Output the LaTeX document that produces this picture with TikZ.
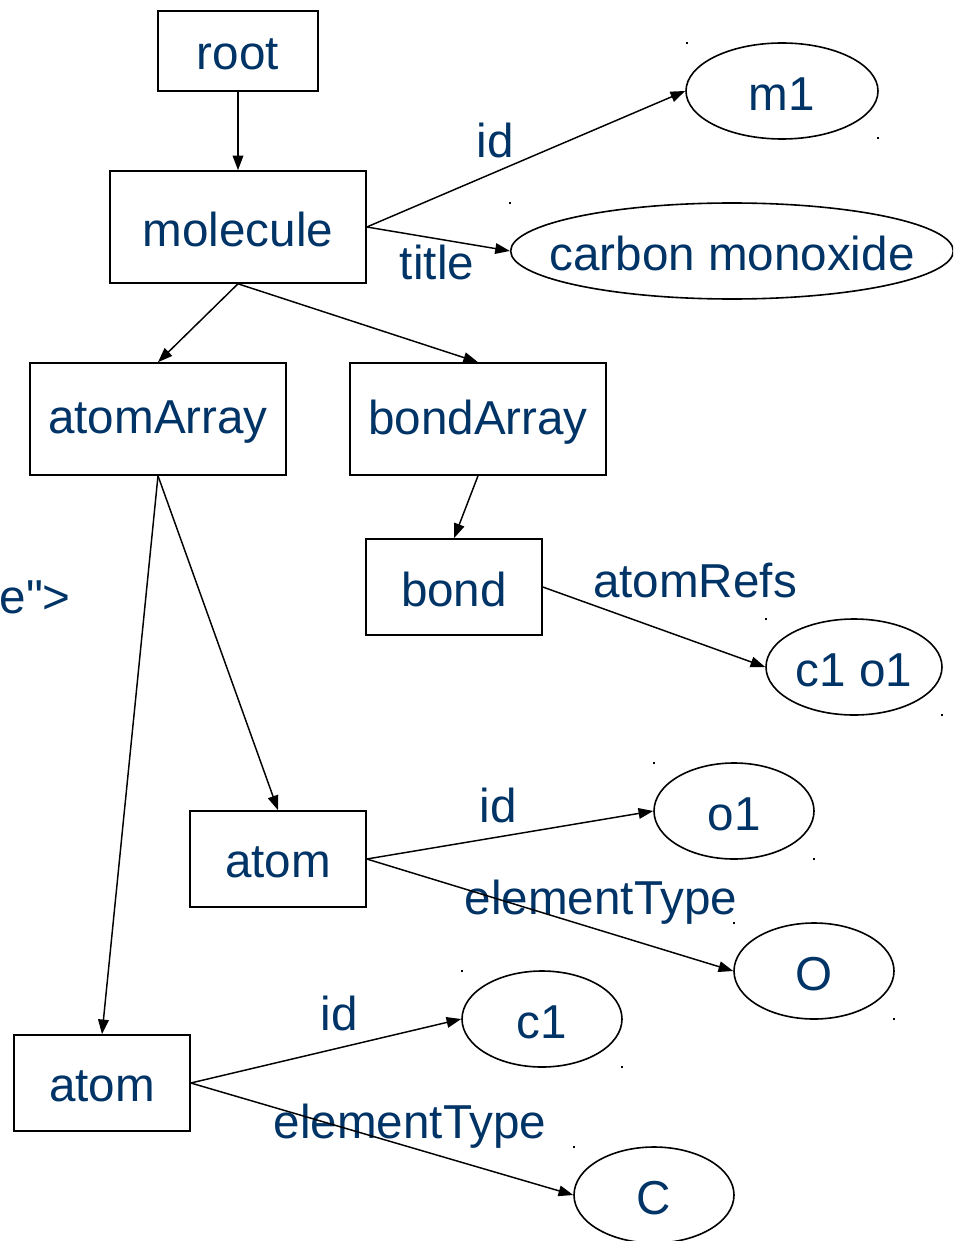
\documentclass[tikz,border=0pt]{standalone}
\usepackage{fontspec}
\setmainfont{Liberation Sans}[Ligatures=TeXOff]
\usetikzlibrary{shapes.geometric,arrows.meta}
\definecolor{txt}{RGB}{0,51,102}
\begin{document}
\begin{tikzpicture}[x=0.75pt,y=-0.75pt,
  every node/.style={font=\fontsize{35.7}{40}\selectfont, text=txt},
  every label/.style={yshift=-2.2pt, inner sep=0pt},
  box/.style={draw, line width=1.2pt, inner sep=0pt},
  ell/.style={ellipse, draw, line width=1.2pt, inner sep=0pt},
  edge/.style={line width=1.1pt, -{Triangle[length=11pt,width=8pt]}},
  lbl/.style={inner sep=0pt},
  dot/.style={fill=black}]
\useasboundingbox (0,0) rectangle (953,1241);
\clip (0,0) rectangle (953,1241);
% boxes
\node[box, minimum width=120pt, minimum height=60pt, label={center:root}] (root) at (238,51) {};
\node[box, minimum width=192pt, minimum height=84pt, label={center:molecule}] (mol) at (238,227) {};
\node[box, minimum width=192pt, minimum height=84pt, label={center:atomArray}] (aa) at (158,419) {};
\node[box, minimum width=192pt, minimum height=84pt, label={center:bondArray}] (ba) at (478,419) {};
\node[box, minimum width=132pt, minimum height=72pt, label={center:bond}] (bond) at (454,587) {};
\node[box, minimum width=132pt, minimum height=72pt, label={center:atom}] (atomo) at (278,859) {};
\node[box, minimum width=132pt, minimum height=72pt, label={center:atom}] (atomc) at (102,1083) {};
% ellipses
\node[ell, minimum width=144pt, minimum height=72pt, label={center:m1}] (m1) at (782,91) {};
\node[ell, minimum width=332pt, minimum height=72pt, label={center:carbon monoxide}] (cm) at (732,251) {};
\node[ell, minimum width=132pt, minimum height=72pt, label={center:c1 o1}] (refs) at (854,667) {};
\node[ell, minimum width=120pt, minimum height=72pt, label={center:o1}] (o1) at (734,811) {};
\node[ell, minimum width=120pt, minimum height=72pt, label={center:O}] (O) at (814,971) {};
\node[ell, minimum width=120pt, minimum height=72pt, label={center:c1}] (c1) at (542,1019) {};
\node[ell, minimum width=120pt, minimum height=72pt, label={center:C}] (C) at (654,1195) {};
% stray text
\node[lbl, anchor=east] (frag) at (71,597) {e">};
% edge labels
\node[lbl] (lid1) at (495,140) {id};
\node[lbl] (ltitle) at (437,262) {title};
\node[lbl] (lrefs) at (695,581) {atomRefs};
\node[lbl] (lid2) at (498,805) {id};
\node[lbl] (let2) at (601,902) {elementType};
\node[lbl] (lid3) at (339,1013) {id};
\node[lbl] (let3) at (410,1126) {elementType};
% edges
\draw[edge] (root.south) -- (mol.north);
\draw[edge] (mol.east) -- (m1.west);
\draw[edge] (mol.east) -- (cm.west);
\draw[edge] (mol.south) -- (aa.north);
\draw[edge] (mol.south) -- (ba.north);
\draw[edge] (ba.south) -- (bond.north);
\draw[edge] (bond.east) -- (refs.west);
\draw[edge] (aa.south) -- (atomo.north);
\draw[edge] (aa.south) -- (atomc.north);
\draw[edge] (atomo.east) -- (o1.west);
\draw[edge] (atomo.east) -- (O.west);
\draw[edge] (atomc.east) -- (c1.west);
\draw[edge] (atomc.east) -- (C.west);
% small corner marks
\foreach \p in {(686,42),(877,137),(509,202),(765,618),(941,714),(653,762),(813,858),(733,922),(893,1018),(461,970),(621,1066),(573,1146)}
  \fill[dot] \p rectangle ++(2,2);
\end{tikzpicture}
\end{document}
